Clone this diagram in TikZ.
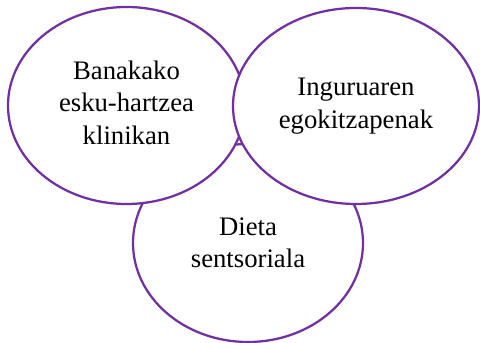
\documentclass[tikz,border=0pt]{standalone}
\usepackage{fontspec}
\setmainfont{Liberation Serif}
\usepackage{xcolor}
\definecolor{venn_purple}{RGB}{112, 48, 160}
\usepackage{tikz}
\usetikzlibrary{shapes.geometric}

\begin{document}
\begin{tikzpicture}[font=\fontsize{19}{23}\selectfont,
            bubble/.style={ellipse, draw=venn_purple, fill=white,
                           line width=1.6pt, align=center, inner sep=0pt}]
            \useasboundingbox (0,0) rectangle (12,8.575);
            % bottom one first, the two upper ones lie over it
            \node[bubble, minimum width=5.75cm, minimum height=4.95cm] (diet)
              at (6.2,2.5) {Dieta\\sentsoriala};
            \node[bubble, minimum width=5.925cm, minimum height=4.925cm] (clin)
              at (3.1625,5.9375) {\raisebox{2pt}{\begin{tabular}{@{}c@{}}Banakako\\esku-hartzea\\klinikan\end{tabular}}};
            \node[bubble, minimum width=6.15cm, minimum height=4.9cm] (env)
              at (8.9,5.925) {Inguruaren\\egokitzapenak};
          \end{tikzpicture}
\end{document}
